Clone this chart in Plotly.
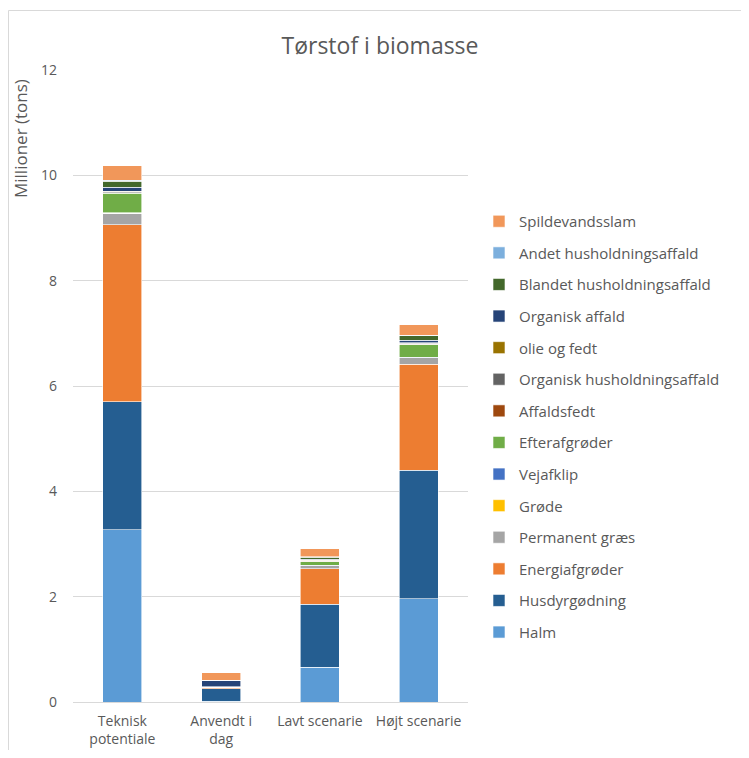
import plotly.graph_objects as go

categories = ["Teknisk<br>potentiale", "Anvendt i<br>dag", "Lavt scenarie", "Højt scenarie"]

series_names = [
    "Halm", "Husdyrgødning", "Energiafgrøder", "Permanent græs", "Grøde",
    "Vejafklip", "Efterafgrøder", "Affaldsfedt", "Organisk husholdningsaffald",
    "olie og fedt", "Organisk affald", "Blandet husholdningsaffald",
    "Andet husholdningsaffald", "Spildevandsslam",
]

halm = [3.27, 0.01, 0.66, 1.96]
husdyrgodning = [2.43, 0.24, 1.20, 2.44]
energiafgroder = [3.36, 0.03, 0.67, 2.01]
permanent_graes = [0.22, 0.0, 0.06, 0.13]
grode = [0.0, 0.0, 0.0, 0.0]
vejafklip = [0.01, 0.0, 0.005, 0.01]
efterafgroder = [0.37, 0.0, 0.07, 0.23]
affaldsfedt = [0.01, 0.0, 0.01, 0.01]
organisk_hush = [0.02, 0.0, 0.01, 0.02]
olie_fedt = [0.01, 0.01, 0.005, 0.01]
organisk_affald = [0.07, 0.11, 0.02, 0.05]
blandet_hush = [0.12, 0.01, 0.04, 0.08]
andet_hush = [0.02, 0.0, 0.01, 0.01]
spildevandsslam = [0.27, 0.15, 0.15, 0.20]

series_values = [
    halm, husdyrgodning, energiafgroder, permanent_graes, grode, vejafklip,
    efterafgroder, affaldsfedt, organisk_hush, olie_fedt, organisk_affald,
    blandet_hush, andet_hush, spildevandsslam,
]

colors = [
    "#5B9BD5", "#255E91", "#ED7D31", "#A5A5A5", "#FFC000", "#4472C4",
    "#70AD47", "#9E480E", "#636363", "#997300", "#264478", "#43682B",
    "#7CAFDD", "#F1975A",
]

y_ticks = [0, 2, 4, 6, 8, 10, 12]

FONT = "Open Sans"
GREY = "#595959"

# page body has an 8px margin; figure coordinates = reference coordinates - 8
W, H = 733, 742
L, T = 65, 62
R = W - 460
B = H - 694
pw, ph = W - L - R, H - T - B

fig = go.Figure()
for i, (name, vals, col) in enumerate(zip(series_names, series_values, colors)):
    fig.add_trace(go.Bar(
        x=categories, y=vals, name=name, legendgroup=name, legendrank=1000 - i,
        marker=dict(color=col, line=dict(color="white", width=0.6)),
    ))

fig.update_layout(
    barmode="stack",
    bargap=0.605,
    width=W, height=H,
    paper_bgcolor="white", plot_bgcolor="white",
    margin=dict(l=L, r=R, t=T, b=B, autoexpand=False),
    font=dict(family=FONT, size=14, color=GREY),
    title=dict(text="Tørstof i biomasse", x=372 / W, xref="container", xanchor="center",
               y=1 - 38 / H, yref="container", yanchor="middle",
               font=dict(family=FONT, size=23, color=GREY)),
    legend=dict(
        x=471 / W, xref="container", y=1 - 197 / H, yref="container",
        xanchor="left", yanchor="top",
        traceorder="grouped", tracegroupgap=9.1,
        font=dict(family=FONT, size=15, color=GREY),
        itemwidth=30, maxheight=700,
        bgcolor="rgba(0,0,0,0)",
    ),
    xaxis=dict(showgrid=False, showline=True, linecolor="#D9D9D9", linewidth=1,
               automargin=False,
               ticks="", ticklabelstandoff=6, tickfont=dict(size=14, color=GREY)),
    yaxis=dict(range=[0, 12], tickvals=y_ticks, showgrid=True, gridcolor="#D9D9D9",
               gridwidth=1, zeroline=False, showline=False, ticks="",
               automargin=False, ticklabelstandoff=15,
               tickfont=dict(size=14, color=GREY)),
    annotations=[dict(
        text="Millioner (tons)", textangle=-90,
        x=(12 - L) / pw, xref="paper", y=(694 - 131) / ph, yref="paper",
        showarrow=False, font=dict(size=17, color=GREY),
        xanchor="center", yanchor="middle",
    )],
)

# outer chart border (left and top edges visible)
bx0 = (0.5 - L) / pw
bx1 = (W + 20 - L) / pw
by_top = (694 - 2.5) / ph
by_bot = (694 - H - 20) / ph
fig.add_shape(type="line", xref="paper", yref="paper", x0=bx0, x1=bx0, y0=by_bot, y1=by_top,
              line=dict(color="#D9D9D9", width=1), layer="below")
fig.add_shape(type="line", xref="paper", yref="paper", x0=bx0, x1=bx1, y0=by_top, y1=by_top,
              line=dict(color="#D9D9D9", width=1), layer="below")

fig.write_html("out.html")
